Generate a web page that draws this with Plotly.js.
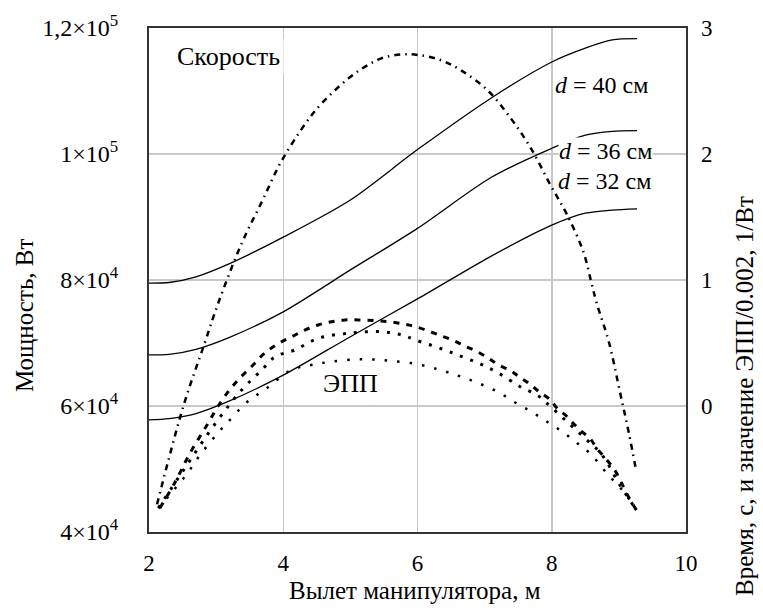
<!DOCTYPE html>
<html>
<head>
<meta charset="utf-8">
<script src="https://cdn.plot.ly/plotly-3.0.1.min.js"></script>
<style>html,body{margin:0;padding:0;background:#fff}#chart{width:763px;height:610px}</style>
</head>
<body>
<div id="chart"></div>
<script>
// Power curves (left axis, W) for d = 40, 36, 32 cm
const xPower = [2.0, 2.3, 2.7, 3.2, 4.0, 5.0, 6.0, 7.1, 8.0, 8.5, 8.9, 9.27];
const pD40 = [79500, 79600, 80500, 82600, 86800, 92700, 100700, 108900, 114600, 116800, 118100, 118300];
const pD36 = [68100, 68200, 69000, 70900, 74950, 81600, 88200, 96300, 100900, 103000, 103600, 103700];
const pD32 = [57800, 58000, 58800, 60800, 64900, 71000, 77000, 83800, 88700, 90600, 91100, 91300];

// Speed curve (right axis)
const xSpeed = [2.12, 2.51, 2.83, 3.03, 3.38, 3.68, 3.97, 4.35, 4.57, 4.97, 5.22, 5.46, 5.76, 6.01, 6.34, 6.64, 7.04, 7.39, 7.69, 7.98, 8.23, 8.47, 8.59, 8.67, 8.85, 9.02, 9.15, 9.26];
const vSpeed = [-0.78, -0.005, 0.50, 0.815, 1.29, 1.62, 1.94, 2.256, 2.40, 2.60, 2.693, 2.759, 2.79, 2.786, 2.746, 2.667, 2.508, 2.283, 2.045, 1.754, 1.516, 1.225, 0.98, 0.815, 0.51, 0.101, -0.217, -0.521];

// ЭПП curves (right axis)
const xEppTop = [2.16, 2.38, 2.61, 2.88, 3.01, 3.18, 3.35, 3.55, 3.72, 3.93, 4.13, 4.32, 4.52, 4.72, 4.92, 5.12, 5.37, 5.57, 5.79, 5.97, 6.19, 6.36, 6.54, 6.69, 6.89, 7.06, 7.21, 7.39, 7.51, 7.66, 7.81, 7.98, 8.08, 8.23, 8.33, 8.45, 8.58, 8.67, 8.80, 8.93, 9.02, 9.09, 9.17, 9.26];
const vEppTop = [-0.812, -0.613, -0.375, -0.137, -0.018, 0.114, 0.220, 0.325, 0.418, 0.497, 0.550, 0.603, 0.643, 0.669, 0.683, 0.683, 0.677, 0.669, 0.651, 0.63, 0.59, 0.556, 0.518, 0.479, 0.431, 0.378, 0.325, 0.280, 0.233, 0.180, 0.114, 0.048, -0.018, -0.085, -0.143, -0.204, -0.264, -0.336, -0.415, -0.502, -0.587, -0.667, -0.746, -0.825];

const xEppMid = [2.14, 2.5, 3.0, 3.38, 3.68, 3.88, 4.17, 4.52, 4.97, 5.46, 5.77, 5.97, 6.38, 6.66, 6.94, 7.21, 7.53, 7.78, 7.93, 8.20, 8.47, 8.75, 9.0, 9.26];
const vEppMid = [-0.81, -0.52, -0.13, 0.127, 0.286, 0.392, 0.444, 0.537, 0.577, 0.59, 0.563, 0.524, 0.45, 0.392, 0.333, 0.26, 0.153, 0.087, 0.021, -0.111, -0.243, -0.389, -0.614, -0.825];

const xEppLow = [2.14, 2.55, 2.78, 3.03, 3.18, 3.45, 3.75, 4.12, 4.42, 4.72, 5.16, 5.57, 5.99, 6.34, 6.62, 6.89, 7.19, 7.46, 7.71, 7.93, 8.17, 8.38, 8.58, 8.82, 9.07, 9.26];
const vEppLow = [-0.81, -0.548, -0.375, -0.212, -0.125, 0.026, 0.14, 0.286, 0.325, 0.352, 0.371, 0.36, 0.333, 0.286, 0.238, 0.185, 0.114, 0.026, -0.05, -0.125, -0.209, -0.296, -0.381, -0.534, -0.68, -0.825];

// Axis ticks
const xTicks = [2, 4, 6, 8, 10];
const yLeftTicks = [40000, 60000, 80000, 100000, 120000];
const yLeftLabels = ['4×10<sup>4</sup>', '6×10<sup>4</sup>', '8×10<sup>4</sup>', '1×10<sup>5</sup>', '1,2×10<sup>5</sup>'];
const yRightTicks = [0, 1, 2, 3];

const solid = {color: '#000', width: 1.3, shape: 'spline', smoothing: 0.8};
const traces = [
  {x: xPower, y: pD40, mode: 'lines', line: solid, yaxis: 'y', showlegend: false},
  {x: xPower, y: pD36, mode: 'lines', line: solid, yaxis: 'y', showlegend: false},
  {x: xPower, y: pD32, mode: 'lines', line: solid, yaxis: 'y', showlegend: false},
  {x: xSpeed, y: vSpeed, mode: 'lines', yaxis: 'y2', showlegend: false,
   line: {color: '#000', width: 2.5, dash: '6px,5px,1.5px,5px', shape: 'spline'}},
  {x: xEppTop, y: vEppTop, mode: 'lines', yaxis: 'y2', showlegend: false,
   line: {color: '#000', width: 3, dash: '6px,7px', shape: 'spline'}},
  {x: xEppMid, y: vEppMid, mode: 'lines', yaxis: 'y2', showlegend: false,
   line: {color: '#000', width: 3, dash: '3px,8px', shape: 'spline'}},
  {x: xEppLow, y: vEppLow, mode: 'lines', yaxis: 'y2', showlegend: false,
   line: {color: '#000', width: 2.5, dash: '2.5px,10px', shape: 'spline'}}
];

const F = 'Liberation Serif';
const layout = {
  width: 763, height: 610,
  margin: {l: 149, r: 77, t: 28, b: 78},
  paper_bgcolor: '#fff', plot_bgcolor: '#fff',
  font: {family: F, size: 23, color: '#000'},
  xaxis: {
    range: [2, 10], tickvals: xTicks, ticktext: xTicks.map(String),
    showgrid: true, gridcolor: '#c8c8c8', gridwidth: 1.5, zeroline: false,
    showline: true, mirror: true, linecolor: '#333', linewidth: 2,
    ticks: '', ticklabelstandoff: 9, tickfont: {family: F, size: 23}
  },
  yaxis: {
    range: [40000, 120000], tickvals: yLeftTicks, ticktext: yLeftLabels,
    showgrid: true, gridcolor: '#c8c8c8', gridwidth: 1.5, zeroline: false,
    showline: true, mirror: true, linecolor: '#333', linewidth: 2,
    ticks: '', ticklabelstandoff: 24, tickfont: {family: F, size: 24}
  },
  yaxis2: {
    range: [-1, 3], tickvals: yRightTicks, ticktext: yRightTicks.map(String),
    overlaying: 'y', side: 'right', showgrid: false, zeroline: false,
    showline: false, ticks: '', ticklabelstandoff: 14, tickfont: {family: F, size: 23}
  },
  annotations: [
    {text: 'Вылет манипулятора, м', xref: 'paper', yref: 'paper', x: 0.496, y: 0, yshift: -58,
     showarrow: false, xanchor: 'center', yanchor: 'middle', font: {family: F, size: 25}},
    {text: 'Мощность, Вт', xref: 'paper', yref: 'paper', x: 0, xshift: -124, y: 0.4286,
     textangle: -90, showarrow: false, xanchor: 'center', yanchor: 'middle', font: {family: F, size: 25}},
    {text: 'Время, с, и значение ЭПП/0.002, 1/Вт', xref: 'paper', yref: 'paper', x: 1, xshift: 59, y: 0.27,
     textangle: -90, showarrow: false, xanchor: 'center', yanchor: 'middle', font: {family: F, size: 25}},
    {text: 'Скорость', xref: 'x', yref: 'y', x: 3.18, y: 115400, showarrow: false,
     bgcolor: '#fff', borderpad: 3, font: {family: F, size: 26}},
    {text: '<i>d</i> = 40 см', xref: 'x', yref: 'y', x: 8.74, y: 110900, showarrow: false,
     font: {family: F, size: 24}},
    {text: '<i>d</i> = 36 см', xref: 'x', yref: 'y', x: 8.80, y: 100400, showarrow: false,
     bgcolor: '#fff', borderpad: 0, font: {family: F, size: 24}},
    {text: '<i>d</i> = 32 см', xref: 'x', yref: 'y', x: 8.79, y: 95700, showarrow: false,
     font: {family: F, size: 24}},
    {text: 'ЭПП', xref: 'x', yref: 'y', x: 5.0, y: 63650, showarrow: false,
     font: {family: F, size: 26}}
  ]
};

Plotly.newPlot('chart', traces, layout, {staticPlot: true, displayModeBar: false});
</script>
</body>
</html>
